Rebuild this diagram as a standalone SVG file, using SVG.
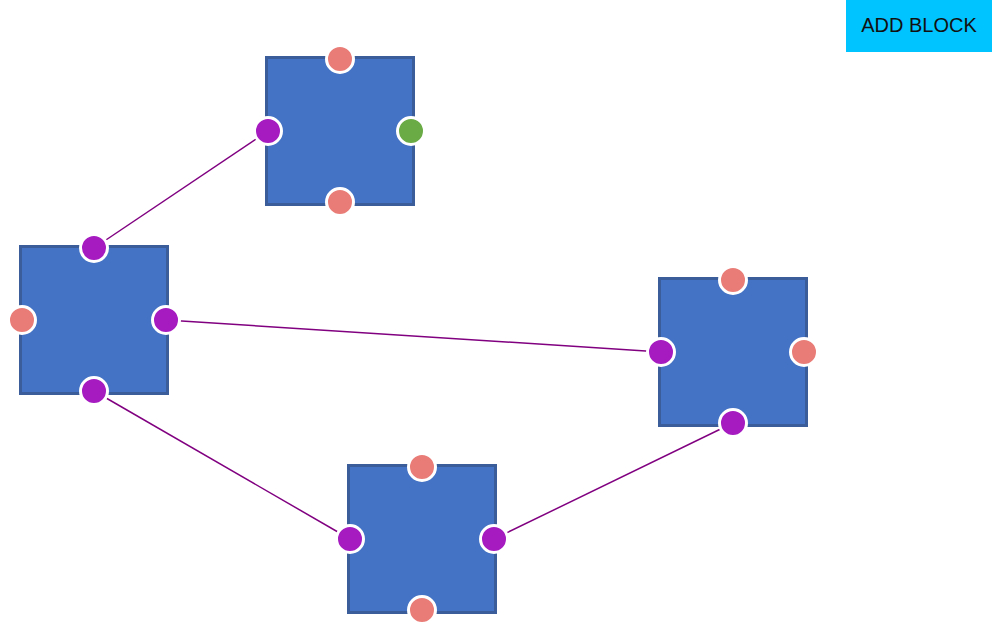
<svg xmlns="http://www.w3.org/2000/svg" width="992" height="626" viewBox="0 0 992 626">
<style>
.block{fill:#4472c4;stroke:#3b5e9b;stroke-width:3}
.port{stroke:#fff;stroke-width:3}
.in{fill:#e97c77}
.out{fill:#a51bc0}
.ok{fill:#6aab46}
.edge{stroke:#800080;stroke-width:1.5;fill:none}
.btn{fill:#00c4ff}
.btxt{font-family:"Liberation Sans",Arial,sans-serif;font-size:20px;fill:#111}
</style>
<rect width="992" height="626" fill="#fff"/>
<g id="connectors">
<line class="edge" x1="268" y1="131" x2="94" y2="248"/>
<line class="edge" x1="166" y1="320" x2="661" y2="352"/>
<line class="edge" x1="94" y1="391" x2="350" y2="539"/>
<line class="edge" x1="494" y1="539" x2="733" y2="423"/>
</g>
<g id="block1">
<rect class="block" x="266.5" y="57.5" width="147" height="147"/>
<circle class="port in" cx="340" cy="59" r="13.5"/>
<circle class="port out" cx="268" cy="131" r="13.5"/>
<circle class="port ok" cx="411" cy="131" r="13.5"/>
<circle class="port in" cx="340" cy="202" r="13.5"/>
</g>
<g id="block2">
<rect class="block" x="20.5" y="246.5" width="147" height="147"/>
<circle class="port out" cx="94" cy="248" r="13.5"/>
<circle class="port in" cx="22" cy="320" r="13.5"/>
<circle class="port out" cx="166" cy="320" r="13.5"/>
<circle class="port out" cx="94" cy="391" r="13.5"/>
</g>
<g id="block3">
<rect class="block" x="659.5" y="278.5" width="147" height="147"/>
<circle class="port in" cx="733" cy="280" r="13.5"/>
<circle class="port out" cx="661" cy="352" r="13.5"/>
<circle class="port in" cx="804" cy="352" r="13.5"/>
<circle class="port out" cx="733" cy="423" r="13.5"/>
</g>
<g id="block4">
<rect class="block" x="348.5" y="465.5" width="147" height="147"/>
<circle class="port in" cx="422" cy="467" r="13.5"/>
<circle class="port out" cx="350" cy="539" r="13.5"/>
<circle class="port out" cx="494" cy="539" r="13.5"/>
<circle class="port in" cx="422" cy="610" r="13.5"/>
</g>
<g id="addblock">
<rect class="btn" x="846" y="0" width="146" height="52"/>
<text class="btxt" x="919" y="32" text-anchor="middle">ADD BLOCK</text>
</g>
</svg>
